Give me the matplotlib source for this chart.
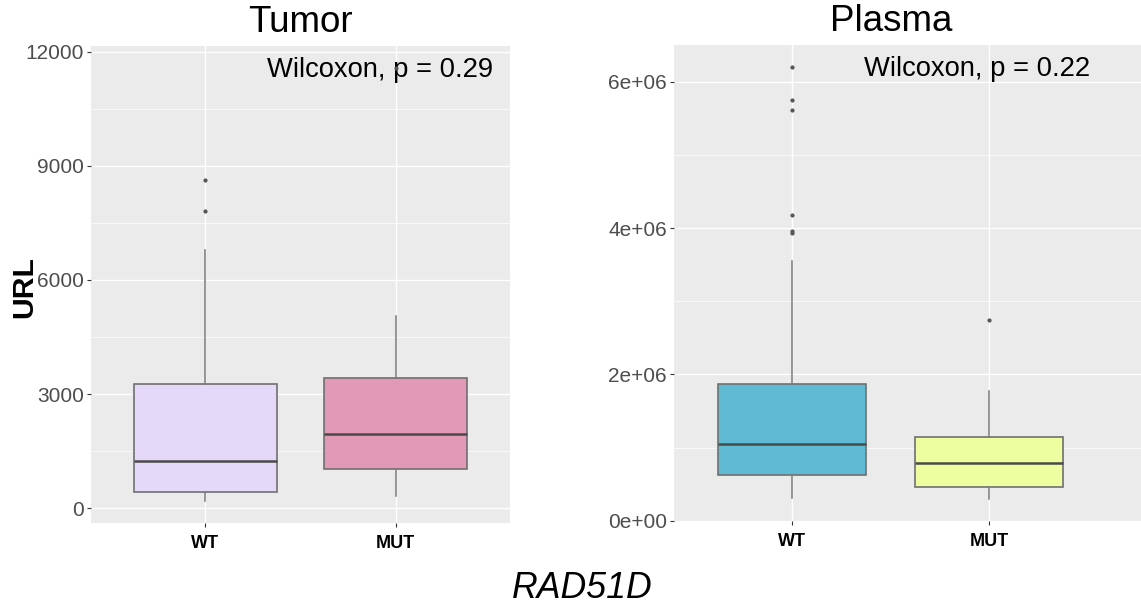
import matplotlib.pyplot as plt
import matplotlib.transforms as mtransforms

plt.rcParams['font.family'] = ['Liberation Sans', 'DejaVu Sans']

groups = ['WT', 'MUT']

# Tumor: five-number summaries
tumor_low = [184, 316]
tumor_q1 = [421, 1026]
tumor_med = [1237, 1965]
tumor_q3 = [3255, 3430]
tumor_high = [6789, 5053]
tumor_fliers = [[7816, 8632], [11579]]
tumor_colors = ['#E5D9FA', '#E199B6']
tumor_p = 'Wilcoxon, p = 0.29'

# Plasma
plasma_low = [0.305e6, 0.291e6]
plasma_q1 = [0.625e6, 0.455e6]
plasma_med = [1.043e6, 0.793e6]
plasma_q3 = [1.869e6, 1.148e6]
plasma_high = [3.55e6, 1.777e6]
plasma_fliers = [[3.93e6, 3.955e6, 4.18e6, 5.61e6, 5.75e6, 6.21e6], [2.748e6]]
plasma_colors = ['#5FBBD3', '#EDFEA0']
plasma_p = 'Wilcoxon, p = 0.22'

W, H = 1141, 607
fig = plt.figure(figsize=(W / 100, H / 100), dpi=100)

ax1 = fig.add_axes([91 / W, 1 - 523 / H, 419 / W, 477 / H])
ax2 = fig.add_axes([674 / W, 1 - 521 / H, (W - 674) / W, 476 / H])


def draw_panel(ax, title, low, q1, med, q3, high, fliers, colors, ptext,
               ylim, yticks, ylabels, minor, xmax):
    ax.set_facecolor('#EBEBEB')
    for s in ax.spines.values():
        s.set_visible(False)
    for m in minor:
        ax.axhline(m, color='white', lw=0.5, zorder=0)
    for t in yticks:
        ax.axhline(t, color='white', lw=1.0, zorder=0)
    for x in [1, 2]:
        ax.axvline(x, color='white', lw=1.0, zorder=0)

    stats = []
    for i, g in enumerate(groups):
        stats.append(dict(label=g, whislo=low[i], q1=q1[i], med=med[i],
                          q3=q3[i], whishi=high[i], fliers=fliers[i]))
    bp = ax.bxp(stats, positions=[1, 2], widths=0.75, patch_artist=True,
                showcaps=False,
                boxprops=dict(edgecolor='#707070', lw=1.2),
                medianprops=dict(color='#4A4A4A', lw=1.8),
                whiskerprops=dict(color='#7A7A7A', lw=1.1),
                flierprops=dict(marker='o', markersize=2.0,
                                markerfacecolor='#555555',
                                markeredgecolor='#555555', zorder=5))
    for patch, c in zip(bp['boxes'], colors):
        patch.set_facecolor(c)

    ax.set_xlim(0.4, xmax)
    ax.set_ylim(*ylim)
    ax.set_yticks(yticks)
    ax.set_yticklabels(ylabels, fontsize=15, color='#4D4D4D')
    ax.set_xticks([1, 2])
    ax.set_xticklabels(groups, fontsize=13, fontweight='bold', color='black')
    ax.tick_params(length=3, width=0.8, color='#333333', pad=2)
    ax.tick_params(axis='x', pad=6)

    trans = mtransforms.blended_transform_factory(ax.transData, ax.transAxes)
    ax.text(1.5, 1.012, title, transform=trans, ha='center', va='bottom',
            fontsize=26.5)
    ax.text(2.51, 0.934, ptext, transform=trans, ha='right', va='baseline',
            fontsize=19.7, zorder=4)


draw_panel(ax1, 'Tumor', tumor_low, tumor_q1, tumor_med, tumor_q3, tumor_high,
           tumor_fliers, tumor_colors, tumor_p,
           (-386, 12149), [0, 3000, 6000, 9000, 12000],
           ['0', '3000', '6000', '9000', '12000'],
           [1500, 4500, 7500, 10500], 2.6)

draw_panel(ax2, 'Plasma', plasma_low, plasma_q1, plasma_med, plasma_q3,
           plasma_high, plasma_fliers, plasma_colors, plasma_p,
           (-5000, 6.505e6), [0, 2e6, 4e6, 6e6],
           ['0e+00', '2e+06', '4e+06', '6e+06'],
           [1e6, 3e6, 5e6], 2.77)

fig.text(24 / W, 1 - 287 / H, 'URL', rotation=90, ha='center', va='center',
         fontsize=21.7, fontweight='bold')
fig.text(582 / W, 1 - 589 / H, 'RAD51D', ha='center', va='center',
         fontsize=25.7, style='italic')

fig.savefig('out.png', dpi=100)
